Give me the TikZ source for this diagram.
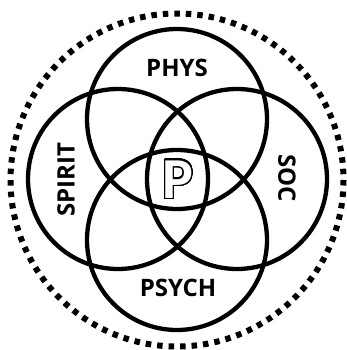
\documentclass[tikz,border=0pt]{standalone}
\usepackage{fontspec}
\setsansfont{Open Sans}
\newfontfamily\pfont{Carlito}
\usepackage[copies]{contour}
\usetikzlibrary{positioning}
\definecolor{ink}{HTML}{000000}
\contourlength{1.4pt}
\contournumber{32}

\begin{document}
\begin{tikzpicture}[x=1pt,y=-1pt,
  ring/.style={circle,draw=ink,line width=4.3pt,minimum size=180pt,inner sep=0pt},
  lbl/.style={font=\sffamily\bfseries\fontsize{24}{24}\selectfont,text=ink,inner sep=0pt}]
  \useasboundingbox (0,0) rectangle (346,350);
  % dotted outer ring
  \draw[ink,line width=6pt,dash pattern=on 5.5pt off 6pt] (177,180) circle[radius=166.5];
  % the four circles
  \node[ring] (phys) at (177,119) {};
  \node[ring] (psych) at (177,240) {};
  \node[ring] (spirit) at (118,179) {};
  \node[ring] (soc) at (237,179) {};
  \node[lbl] (physlbl) at (177,68) {PHYS};
  \node[lbl] (psychlbl) at (178,288) {PSYCH};
  \node[lbl,rotate=90] (spiritlbl) at (66,180) {SPIRIT};
  \node[lbl,rotate=-90] (soclbl) at (287,178) {SOC};
  \node[inner sep=0pt] (p) at (178,180)
    {\pfont\bfseries\fontsize{58}{58}\selectfont\contour{ink}{\textcolor{white}{P}}};
\end{tikzpicture}
\end{document}
